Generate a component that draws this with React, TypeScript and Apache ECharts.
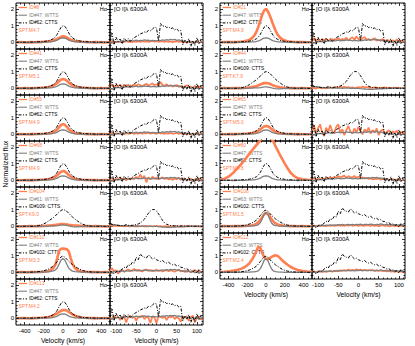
import React, { useEffect, useRef } from 'react';
import * as echarts from 'echarts';

// ---------- velocity grids ----------
const HA_V = [-490, -440, -390, -340, -300, -260, -230, -200, -175, -150, -125, -100, -80, -60, -40, -20, 0, 20, 40, 60, 80, 100, 125, 150, 175, 200, 230, 260, 300, 340, 390, 440, 490];
const OI_V = [-115, -110, -105, -100, -95, -90, -85, -80, -75, -70, -65, -60, -55, -50, -45, -40, -35, -30, -25, -20, -15, -10, -5, 0, 5, 10, 15, 20, 25, 30, 35, 40, 45, 50, 55, 60, 65, 70, 75, 80, 85, 90, 95, 100, 105, 110, 115];

// ---------- axis ticks ----------
const HA_RANGE = [-490, 490];
const OI_RANGE = [-115, 115];
const Y_RANGE = [-0.4, 2.35];
const HA_X_MAJOR = [-400, -200, 0, 200, 400];
const HA_X_MINOR = [-450, -350, -300, -250, -150, -100, -50, 50, 100, 150, 250, 300, 350, 450];
const OI_X_MAJOR = [-100, -50, 0, 50, 100];
const OI_X_MINOR = [-110, -90, -80, -70, -60, -40, -30, -20, -10, 10, 20, 30, 40, 60, 70, 80, 90, 110];
const Y_MAJOR = [0, 1, 2];
const Y_MINOR = [-0.2, 0.2, 0.4, 0.6, 0.8, 1.2, 1.4, 1.6, 1.8, 2.2];

// ---------- Halpha templates ----------
const C62_HA = [0.00, 0.00, 0.01, 0.01, 0.02, 0.03, 0.04, 0.05, 0.07, 0.10, 0.15, 0.22, 0.32, 0.48, 0.70, 0.90, 1.00, 0.95, 0.78, 0.56, 0.38, 0.26, 0.17, 0.12, 0.08, 0.06, 0.04, 0.03, 0.02, 0.01, 0.01, 0.00, 0.00];
const W47_HA = [0.00, 0.01, 0.00, -0.01, 0.00, 0.01, 0.00, 0.01, 0.01, 0.02, 0.03, 0.05, 0.08, 0.13, 0.20, 0.25, 0.27, 0.25, 0.20, 0.13, 0.08, 0.05, 0.03, 0.02, 0.01, 0.01, 0.00, 0.01, 0.00, -0.01, 0.00, 0.01, 0.00];
const W47B_HA = [0.00, 0.01, 0.00, 0.00, 0.01, 0.00, 0.01, 0.01, 0.02, 0.03, 0.05, 0.08, 0.14, 0.26, 0.50, 0.74, 0.82, 0.72, 0.48, 0.25, 0.13, 0.07, 0.04, 0.03, 0.02, 0.01, 0.01, 0.00, 0.01, 0.00, 0.00, 0.01, 0.00];
const C109_HA = [0.00, 0.00, 0.01, 0.00, 0.01, 0.03, 0.08, 0.15, 0.22, 0.32, 0.42, 0.52, 0.62, 0.74, 0.85, 0.95, 1.00, 0.97, 0.90, 0.78, 0.66, 0.55, 0.43, 0.32, 0.22, 0.14, 0.07, 0.03, 0.01, 0.00, 0.01, 0.00, 0.00];
const W61_HA = [0.00, 0.01, 0.00, 0.01, 0.00, 0.00, 0.01, 0.00, 0.01, 0.01, 0.02, 0.02, 0.03, 0.04, 0.06, 0.08, 0.08, 0.07, 0.05, 0.02, 0.00, -0.02, -0.03, -0.03, -0.02, -0.01, 0.00, 0.01, 0.00, 0.00, 0.01, 0.00, 0.00];
const C102_HA = [0.00, 0.01, 0.01, 0.01, 0.02, 0.04, 0.06, 0.10, 0.14, 0.20, 0.28, 0.38, 0.50, 0.65, 0.80, 0.92, 0.97, 0.90, 0.78, 0.65, 0.55, 0.45, 0.35, 0.26, 0.18, 0.12, 0.07, 0.04, 0.02, 0.01, 0.01, 0.00, 0.00];
const W63_HA = [0.00, 0.00, 0.01, 0.00, 0.01, 0.00, 0.01, 0.01, 0.01, 0.02, 0.03, 0.05, 0.10, 0.22, 0.45, 0.72, 0.82, 0.70, 0.42, 0.20, 0.08, 0.04, 0.02, 0.01, 0.01, 0.00, 0.01, 0.00, 0.00, 0.01, 0.00, 0.00, 0.00];

// ---------- Halpha targets ----------
const O8_HA = [0.00, 0.01, -0.01, 0.01, 0.00, 0.02, 0.01, 0.03, 0.04, 0.06, 0.08, 0.11, 0.15, 0.20, 0.27, 0.33, 0.36, 0.34, 0.29, 0.22, 0.16, 0.12, 0.08, 0.06, 0.04, 0.03, 0.02, 0.01, 0.00, 0.01, 0.00, -0.01, 0.00];
const O41_HA = [0.01, 0.00, 0.02, 0.00, 0.01, 0.02, 0.03, 0.04, 0.06, 0.08, 0.12, 0.17, 0.24, 0.32, 0.43, 0.52, 0.56, 0.53, 0.45, 0.34, 0.25, 0.18, 0.12, 0.08, 0.05, 0.04, 0.03, 0.02, 0.01, 0.00, 0.01, 0.00, 0.01];
const O55_HA = [0.00, 0.01, 0.00, 0.01, 0.01, 0.02, 0.02, 0.03, 0.04, 0.06, 0.09, 0.13, 0.19, 0.29, 0.43, 0.56, 0.61, 0.57, 0.45, 0.31, 0.20, 0.13, 0.08, 0.05, 0.04, 0.03, 0.02, 0.01, 0.01, 0.00, 0.01, 0.00, 0.00];
const O68_HA = [0.01, 0.00, 0.01, 0.02, 0.01, 0.02, 0.03, 0.03, 0.05, 0.07, 0.10, 0.15, 0.21, 0.30, 0.42, 0.51, 0.55, 0.52, 0.43, 0.32, 0.22, 0.15, 0.10, 0.06, 0.04, 0.03, 0.02, 0.02, 0.01, 0.01, 0.00, 0.01, 0.00];
const O104_HA = [0.00, -0.01, 0.00, 0.01, 0.00, 0.01, 0.01, 0.02, 0.03, 0.04, 0.05, 0.07, 0.08, 0.10, 0.11, 0.13, 0.13, 0.12, 0.11, 0.09, 0.08, 0.06, 0.05, 0.04, 0.03, 0.02, 0.01, 0.01, 0.00, 0.01, 0.00, -0.01, 0.00];
const O110_HA = [0.00, 0.01, 0.00, 0.01, 0.01, 0.02, 0.02, 0.03, 0.05, 0.08, 0.14, 0.25, 0.45, 0.85, 1.30, 1.40, 1.42, 1.40, 1.38, 1.25, 0.85, 0.50, 0.25, 0.12, 0.07, 0.04, 0.03, 0.02, 0.01, 0.01, 0.00, 0.01, 0.00];
const O113_HA = [0.00, 0.01, 0.01, 0.00, 0.01, 0.02, 0.03, 0.04, 0.06, 0.08, 0.12, 0.17, 0.23, 0.30, 0.38, 0.45, 0.50, 0.50, 0.46, 0.38, 0.30, 0.23, 0.16, 0.10, 0.07, 0.05, 0.03, 0.02, 0.01, 0.01, 0.00, 0.01, 0.00];
const O21_HA = [0.00, 0.01, 0.01, 0.01, 0.02, 0.04, 0.06, 0.10, 0.15, 0.25, 0.40, 0.65, 0.95, 1.30, 1.65, 1.90, 2.00, 1.85, 1.60, 1.30, 1.00, 0.72, 0.45, 0.28, 0.17, 0.10, 0.06, 0.04, 0.02, 0.01, 0.01, 0.00, 0.00];
const O44_HA = [0.00, 0.01, 0.00, 0.01, 0.01, 0.01, 0.02, 0.03, 0.05, 0.07, 0.10, 0.14, 0.18, 0.23, 0.28, 0.31, 0.32, 0.30, 0.27, 0.22, 0.17, 0.13, 0.09, 0.06, 0.04, 0.03, 0.02, 0.01, 0.01, 0.00, 0.01, 0.00, 0.00];
const O65_HA = [0.01, 0.00, 0.01, 0.01, 0.02, 0.02, 0.03, 0.04, 0.05, 0.07, 0.10, 0.15, 0.21, 0.29, 0.39, 0.47, 0.50, 0.48, 0.41, 0.31, 0.22, 0.15, 0.10, 0.07, 0.05, 0.03, 0.02, 0.02, 0.01, 0.01, 0.00, 0.00, 0.01];
const O80_HA = [0.03, 0.10, 0.25, 0.50, 0.75, 1.00, 1.20, 1.42, 1.60, 1.78, 1.95, 2.12, 2.25, 2.40, 2.55, 2.65, 2.70, 2.65, 2.55, 2.45, 2.30, 2.05, 1.78, 1.50, 1.25, 1.00, 0.72, 0.47, 0.25, 0.12, 0.06, 0.03, 0.02];
const O108_HA = [0.00, 0.01, 0.00, 0.01, 0.01, 0.01, 0.02, 0.03, 0.04, 0.06, 0.10, 0.16, 0.25, 0.38, 0.55, 0.72, 0.80, 0.75, 0.60, 0.42, 0.28, 0.18, 0.11, 0.07, 0.04, 0.03, 0.02, 0.01, 0.01, 0.00, 0.01, 0.00, 0.00];
const O112_HA = [0.02, 0.03, 0.06, 0.10, 0.15, 0.22, 0.30, 0.42, 0.55, 0.75, 1.00, 1.30, 1.55, 1.45, 1.15, 0.90, 0.80, 0.78, 0.85, 0.92, 0.98, 1.02, 0.98, 0.85, 0.70, 0.58, 0.45, 0.33, 0.22, 0.14, 0.08, 0.04, 0.02];

// ---------- [O I] templates ----------
const C62_OI = [0.05, 0.55, -0.15, 0.30, 0.05, 0.20, -0.10, 0.25, 0.10, 0.22, 0.05, 0.18, 0.28, 0.35, 0.42, 0.50, 0.55, 0.62, 0.58, 0.72, 0.68, 0.80, 0.90, 0.85, 0.10, 1.12, 0.95, 1.00, 0.88, 0.92, 0.82, 0.86, 0.75, 0.80, 0.68, 0.72, -0.15, 0.15, -0.05, 0.22, -0.25, 0.10, -0.20, 0.28, -0.05, 0.18, -0.10];
const W47_OI = [0.00, -0.05, 0.05, 0.02, 0.06, 0.03, 0.08, 0.05, 0.10, 0.07, 0.12, 0.08, 0.10, 0.13, 0.09, 0.12, 0.10, 0.14, 0.11, 0.13, 0.09, 0.12, 0.10, 0.08, 0.12, 0.10, 0.14, 0.12, 0.16, 0.13, 0.17, 0.14, 0.18, 0.12, 0.15, 0.10, 0.06, 0.09, 0.03, 0.07, 0.00, 0.05, -0.03, 0.04, -0.05, 0.02, -0.04];
const C109_OI = [0.15, 0.12, 0.10, 0.08, 0.06, 0.05, 0.04, 0.05, 0.10, 0.06, 0.05, 0.06, 0.08, 0.10, 0.14, 0.20, 0.30, 0.42, 0.60, 0.78, 0.92, 1.00, 1.00, 0.92, 0.75, 0.55, 0.35, 0.20, 0.12, 0.08, 0.05, 0.04, 0.03, 0.03, 0.02, 0.02, 0.03, 0.02, 0.01, 0.02, 0.01, 0.02, 0.01, 0.00, 0.01, 0.00, 0.01];
const W61_OI = [0.12, 0.10, 0.08, 0.07, 0.05, 0.04, 0.03, 0.03, 0.02, 0.02, 0.01, 0.02, 0.01, 0.02, 0.01, 0.00, 0.01, 0.02, 0.01, 0.00, 0.01, 0.00, -0.01, 0.00, -0.02, -0.03, -0.04, -0.05, -0.06, -0.05, -0.06, -0.05, -0.04, -0.03, -0.02, -0.03, -0.01, -0.02, 0.00, -0.01, 0.00, 0.01, 0.00, 0.01, 0.00, 0.01, 0.00];
const C102_OI = [0.00, 0.05, -0.10, 0.02, 0.10, 0.05, 0.20, 0.30, 0.25, 0.45, 0.40, 0.60, 0.55, 0.90, 0.75, 1.10, 0.95, 0.90, 0.85, 1.05, 0.92, 0.80, 0.85, 0.75, 0.70, 0.65, 0.70, 0.60, 0.55, 0.60, 0.50, 0.45, 0.48, 0.38, 0.40, 0.30, 0.28, 0.20, 0.22, 0.12, 0.15, 0.05, 0.10, -0.05, 0.18, 0.00, 0.05];
const W63_OI = [0.00, 0.03, -0.02, 0.05, 0.02, 0.06, 0.04, 0.07, 0.05, 0.08, 0.06, 0.09, 0.07, 0.10, 0.08, 0.11, 0.09, 0.10, 0.12, 0.08, 0.11, 0.09, 0.12, 0.10, 0.13, 0.09, 0.11, 0.12, 0.10, 0.13, 0.11, 0.09, 0.12, 0.10, 0.14, 0.11, 0.09, 0.12, 0.08, 0.11, 0.07, 0.10, 0.06, 0.09, 0.05, 0.08, 0.06];

// ---------- [O I] targets ----------
const O8_OI = [0.02, 0.08, -0.03, 0.04, 0.01, 0.05, 0.00, 0.03, 0.06, 0.02, 0.04, 0.01, 0.05, 0.03, 0.06, 0.02, 0.07, 0.04, 0.05, 0.03, 0.06, 0.08, 0.04, 0.07, 0.03, 0.06, 0.05, 0.02, 0.06, 0.03, 0.05, 0.01, 0.04, 0.06, 0.02, 0.05, 0.00, 0.04, -0.02, 0.03, 0.05, -0.03, 0.02, 0.06, -0.04, 0.03, 0.00];
const O41_OI = [0.10, 0.25, 0.05, 0.18, 0.12, 0.22, 0.08, 0.15, 0.20, 0.12, 0.18, 0.10, 0.22, 0.15, 0.25, 0.18, 0.12, 0.20, 0.28, 0.15, 0.22, 0.30, 0.18, 0.25, 0.12, 0.38, 0.20, 0.15, 0.25, 0.12, 0.18, 0.10, 0.15, 0.20, 0.08, 0.14, 0.05, 0.12, 0.18, 0.06, 0.10, 0.02, 0.15, 0.05, 0.12, 0.00, 0.08];
const O55_OI = [0.03, 0.10, 0.00, 0.06, 0.02, 0.08, 0.04, 0.01, 0.07, 0.03, 0.05, 0.09, 0.02, 0.06, 0.04, 0.08, 0.03, 0.07, 0.05, 0.10, 0.04, 0.08, 0.06, 0.03, 0.09, 0.05, 0.07, 0.02, 0.06, 0.04, 0.08, 0.03, 0.05, 0.09, 0.02, 0.06, 0.04, 0.00, 0.07, 0.03, -0.02, 0.05, 0.01, 0.06, -0.03, 0.04, 0.02];
const O68_OI = [0.05, 0.15, -0.05, 0.10, 0.02, 0.18, 0.06, 0.12, 0.00, 0.10, 0.05, 0.15, 0.08, 0.20, 0.12, 0.35, 0.10, 0.28, -0.12, 0.18, 0.05, 0.22, 0.10, 0.15, 0.06, 0.12, 0.18, 0.08, 0.14, 0.05, 0.10, 0.02, 0.12, 0.06, 0.15, 0.03, 0.08, 0.12, 0.00, 0.06, 0.10, -0.05, 0.08, 0.02, 0.12, -0.03, 0.05];
const O104_OI = [0.05, 0.03, 0.04, 0.02, 0.03, 0.01, 0.02, 0.00, 0.02, 0.01, 0.00, 0.02, -0.01, 0.01, 0.00, 0.02, 0.01, -0.01, 0.01, 0.00, 0.02, -0.01, 0.01, 0.03, 0.00, 0.02, -0.01, 0.01, 0.00, -0.02, 0.01, -0.01, 0.00, 0.02, -0.01, 0.01, -0.02, 0.00, 0.01, -0.01, 0.02, 0.00, -0.01, 0.01, 0.00, -0.02, 0.01];
const O110_OI = [0.10, 0.25, 0.05, 0.12, -0.08, 0.08, 0.15, 0.02, 0.10, 0.18, 0.06, 0.12, 0.20, 0.08, 0.15, 0.10, 0.05, 0.12, 0.18, 0.08, 0.14, 0.06, 0.10, 0.16, 0.08, 0.12, 0.05, 0.10, 0.14, 0.06, 0.12, 0.08, 0.03, 0.10, 0.15, 0.05, 0.09, 0.02, 0.12, 0.06, 0.00, 0.08, 0.14, 0.03, 0.07, -0.02, 0.05];
const O113_OI = [0.08, -0.05, 0.15, 0.02, 0.10, -0.10, 0.05, 0.12, -0.25, 0.08, 0.15, 0.02, 0.10, -0.15, 0.12, 0.05, 0.18, -0.05, 0.10, 0.02, -0.28, 0.12, 0.05, -0.30, 0.15, 0.08, 0.02, 0.12, -0.10, 0.10, 0.05, 0.15, -0.05, 0.08, 0.00, -0.20, 0.10, 0.05, 0.12, -0.15, 0.08, 0.15, -0.25, 0.05, 0.10, -0.08, 0.02];
const O21_OI = [0.05, 0.25, 0.10, 0.18, 0.05, 0.20, 0.12, 0.22, 0.08, 0.15, 0.20, 0.10, 0.18, 0.25, 0.12, 0.20, 0.15, 0.28, 0.10, 0.22, 0.30, 0.15, 0.35, 0.18, 0.10, 0.25, 0.32, 0.15, 0.20, 0.12, 0.18, 0.25, 0.10, 0.15, 0.08, 0.20, 0.05, 0.15, 0.10, 0.02, 0.12, 0.05, 0.18, -0.02, 0.10, 0.05, 0.00];
const O44_OI = [0.00, 0.03, -0.02, 0.05, 0.02, 0.00, 0.04, -0.01, 0.03, 0.06, 0.02, 0.05, 0.08, 0.04, 0.10, 0.06, 0.09, 0.05, 0.08, 0.03, 0.06, 0.02, 0.04, 0.07, 0.05, 0.10, 0.06, 0.08, 0.03, 0.05, 0.02, 0.06, 0.04, 0.01, 0.05, 0.03, 0.06, 0.02, 0.04, 0.00, 0.03, 0.05, 0.01, 0.04, -0.01, 0.03, 0.02];
const O65_OI = [0.15, 0.50, 0.05, 0.35, 0.60, 0.10, -0.10, 0.40, 0.15, 0.55, 0.20, 0.05, 0.45, 0.60, 0.10, 0.30, -0.05, 0.25, 0.50, 0.15, 0.05, 0.35, 0.10, 0.45, 0.20, 0.00, 0.30, 0.15, 0.40, 0.05, 0.25, 0.10, 0.35, -0.05, 0.20, 0.30, 0.05, 0.15, 0.25, 0.00, 0.18, 0.08, 0.22, -0.02, 0.15, 0.05, 0.10];
const O80_OI = [0.05, 0.15, 0.02, 0.10, 0.05, 0.12, 0.08, 0.15, 0.10, 0.18, 0.12, 0.20, 0.15, 0.25, 0.18, 0.22, 0.28, 0.15, 0.25, 0.20, 0.18, 0.26, 0.15, 0.22, 0.12, 0.18, 0.10, 0.15, 0.08, 0.12, 0.05, 0.10, 0.06, 0.12, 0.03, 0.08, 0.05, 0.10, 0.02, 0.06, 0.08, 0.00, 0.05, 0.07, -0.02, 0.04, 0.02];
const O108_OI = [0.02, 0.05, 0.00, 0.04, 0.02, 0.06, 0.03, 0.01, 0.05, 0.03, 0.06, 0.02, 0.04, 0.07, 0.03, 0.05, 0.02, 0.06, 0.04, 0.08, 0.03, 0.05, 0.07, 0.02, 0.06, 0.04, 0.03, 0.07, 0.05, 0.02, 0.06, 0.03, 0.05, 0.01, 0.04, 0.06, 0.02, 0.05, 0.00, 0.03, 0.05, 0.01, 0.04, -0.01, 0.03, 0.02, 0.00];
const O112_OI = [0.02, 0.06, 0.00, 0.04, 0.08, 0.03, 0.06, 0.02, 0.05, 0.08, 0.04, 0.07, 0.10, 0.06, 0.12, 0.09, 0.14, 0.10, 0.16, 0.12, 0.15, 0.11, 0.18, 0.13, 0.16, 0.12, 0.15, 0.10, 0.14, 0.11, 0.13, 0.09, 0.12, 0.08, 0.11, 0.07, 0.10, 0.05, 0.08, 0.04, 0.07, 0.02, 0.06, 0.03, 0.05, 0.01, 0.04];

// ---------- panel labels ----------
const LEFT_TARGETS = ['ID#8', 'ID#41', 'ID#55', 'ID#68', 'ID#104', 'ID#110', 'ID#113'];
const LEFT_WTTS = ['ID#47: WTTS', 'ID#47: WTTS', 'ID#47: WTTS', 'ID#47: WTTS', 'ID#61: WTTS', 'ID#47: WTTS', 'ID#47: WTTS'];
const LEFT_CTTS = ['ID#62: CTTS', 'ID#62: CTTS', 'ID#62: CTTS', 'ID#62: CTTS', 'ID#109: CTTS', 'ID#102: CTTS', 'ID#62: CTTS'];
const LEFT_SPT = ['SPT:M4.7', 'SPT:M5.1', 'SPT:M4.9', 'SPT:M4.9', 'SPT:K9.0', 'SPT:M3.3', 'SPT:M4.2'];
const RIGHT_TARGETS = ['ID#21', 'ID#44', 'ID#65', 'ID#80', 'ID#108', 'ID#112'];
const RIGHT_WTTS = ['ID#47: WTTS', 'ID#61: WTTS', 'ID#47: WTTS', 'ID#47: WTTS', 'ID#63: WTTS', 'ID#63: WTTS'];
const RIGHT_CTTS = ['ID#62: CTTS', 'ID#109: CTTS', 'ID#62: CTTS', 'ID#62: CTTS', 'ID#102: CTTS', 'ID#102: CTTS'];
const RIGHT_SPT = ['SPT:M4.9', 'SPT:K7.9', 'SPT:M5.0', 'SPT:M4.8', 'SPT:M1.5', 'SPT:M2.4'];

const LEFT_HA = [[O8_HA, W47_HA, C62_HA], [O41_HA, W47_HA, C62_HA], [O55_HA, W47_HA, C62_HA], [O68_HA, W47_HA, C62_HA], [O104_HA, W61_HA, C109_HA], [O110_HA, W47B_HA, C102_HA], [O113_HA, W47_HA, C62_HA]];
const LEFT_OI = [[O8_OI, W47_OI, C62_OI], [O41_OI, W47_OI, C62_OI], [O55_OI, W47_OI, C62_OI], [O68_OI, W47_OI, C62_OI], [O104_OI, W61_OI, C109_OI], [O110_OI, W47_OI, C102_OI], [O113_OI, W47_OI, C62_OI]];
const RIGHT_HA = [[O21_HA, W47_HA, C62_HA], [O44_HA, W61_HA, C109_HA], [O65_HA, W47_HA, C62_HA], [O80_HA, W47_HA, C62_HA], [O108_HA, W63_HA, C102_HA], [O112_HA, W63_HA, C102_HA]];
const RIGHT_OI = [[O21_OI, W47_OI, C62_OI], [O44_OI, W61_OI, C109_OI], [O65_OI, W47_OI, C62_OI], [O80_OI, W47_OI, C62_OI], [O108_OI, W63_OI, C102_OI], [O112_OI, W63_OI, C102_OI]];

const ORANGE = '#FF7F50';
const GRAY = '#7F7F7F';
const BLACK = '#000000';
const FONT = '"Liberation Sans", Arial, Helvetica, sans-serif';

export default function App() {
  const ref = useRef<HTMLDivElement>(null);

  useEffect(() => {
    if (!ref.current) return;
    const chart = echarts.init(ref.current, null, { renderer: 'svg' });
    const TOP = 3;
    const ROW_H = 46;
    const grids: any[] = [];
    const xAxes: any[] = [];
    const yAxes: any[] = [];
    const series: any[] = [];
    const graphics: any[] = [];

    const text = (x: number, y: number, t: string, fill: string, size: number, align = 'left', rotation = 0) => ({
      type: 'text', x, y, rotation, silent: true,
      style: { text: t, fill, fontSize: size, fontFamily: FONT, align, verticalAlign: 'middle', textAlign: align, textVerticalAlign: 'middle' },
    });
    const keyLine = (x1: number, x2: number, y: number, stroke: string, width: number, dash?: number[]) => ({
      type: 'line', silent: true,
      shape: { x1, y1: y, x2, y2: y },
      style: { stroke, lineWidth: width, lineDash: dash || null },
    });

    const addPanel = (left: number, top: number, width: number, kind: 'ha' | 'oi', showX: boolean, curves: number[][]) => {
      const gi = grids.length;
      grids.push({ left, top, width, height: ROW_H, show: true, borderColor: '#000', borderWidth: 1, backgroundColor: 'rgba(0,0,0,0)', containLabel: false, outerBoundsMode: 'none' });
      const xr = kind === 'ha' ? HA_RANGE : OI_RANGE;
      const xMaj = kind === 'ha' ? HA_X_MAJOR : OI_X_MAJOR;
      const xMin = kind === 'ha' ? HA_X_MINOR : OI_X_MINOR;
      const xs = kind === 'ha' ? HA_V : OI_V;
      const xi = xAxes.length;
      const yi = yAxes.length;
      const mk = (pos: string, min: number, max: number, ticks: number[], len: number, label: boolean) => ({
        type: 'value', gridIndex: gi, position: pos, min, max,
        axisLine: { show: false, onZero: false },
        splitLine: { show: false },
        axisTick: { show: true, inside: true, length: len, customValues: ticks, lineStyle: { color: '#000', width: 0.8 } },
        axisLabel: { show: label, customValues: ticks, fontSize: 6, fontFamily: FONT, color: '#000', margin: pos === 'bottom' ? 3 : 2 },
      });
      xAxes.push(
        mk('bottom', xr[0], xr[1], xMaj, 3, showX),
        mk('bottom', xr[0], xr[1], xMin, 1.5, false),
        mk('top', xr[0], xr[1], xMaj, 3, false),
        mk('top', xr[0], xr[1], xMin, 1.5, false),
      );
      yAxes.push(
        mk('left', Y_RANGE[0], Y_RANGE[1], Y_MAJOR, 3, kind === 'ha'),
        mk('left', Y_RANGE[0], Y_RANGE[1], Y_MINOR, 1.5, false),
        mk('right', Y_RANGE[0], Y_RANGE[1], Y_MAJOR, 3, false),
        mk('right', Y_RANGE[0], Y_RANGE[1], Y_MINOR, 1.5, false),
      );
      const styles = [
        { color: ORANGE, width: kind === 'ha' ? 2.6 : 1.7, type: 'solid' },
        { color: GRAY, width: 1.3, type: 'solid' },
        { color: BLACK, width: 1.0, type: [3, 1.5, 1, 1.5] },
      ];
      curves.forEach((ys, k) => {
        series.push({
          type: 'line', xAxisIndex: xi, yAxisIndex: yi,
          data: xs.map((v, i) => [v, ys[i]]),
          showSymbol: false, symbol: 'none', silent: true, clip: true,
          lineStyle: styles[k], z: 2 + k,
        });
      });
    };

    const addColumn = (haLeft: number, haW: number, oiLeft: number, oiW: number, targets: string[], wtts: string[], ctts: string[], spt: string[], ha: number[][][], oi: number[][][]) => {
      const n = targets.length;
      for (let r = 0; r < n; r++) {
        const top = TOP + r * ROW_H;
        const last = r === n - 1;
        addPanel(haLeft, top, haW, 'ha', last, ha[r]);
        addPanel(oiLeft, top, oiW, 'oi', last, oi[r]);
        const kx1 = haLeft + 2.5, kx2 = haLeft + 11, tx = haLeft + 13;
        graphics.push(keyLine(kx1, kx2, top + 4.5, ORANGE, 1.3));
        graphics.push(keyLine(kx1, kx2, top + 12.2, GRAY, 1.1));
        graphics.push(keyLine(kx1, kx2, top + 19.9, BLACK, 1.0, [3, 1.5, 1, 1.5]));
        graphics.push(text(tx, top + 4.5, targets[r], ORANGE, 4.9));
        graphics.push(text(tx, top + 12.2, wtts[r], GRAY, 4.9));
        graphics.push(text(tx, top + 19.9, ctts[r], BLACK, 4.9));
        graphics.push(text(haLeft + 2.5, top + 27.6, spt[r], ORANGE, 4.9));
        graphics.push(text(haLeft + haW - 3, top + 6, 'Hα', BLACK, 5.5, 'right'));
        graphics.push(text(oiLeft + 4, top + 6, '[O I]λ 6300Å', BLACK, 6));
      }
      const bottom = TOP + n * ROW_H;
      graphics.push(text(haLeft + haW / 2, bottom + 15.5, 'Velocity (km/s)', BLACK, 6.8, 'center'));
      graphics.push(text(oiLeft + oiW / 2, bottom + 15.5, 'Velocity (km/s)', BLACK, 6.8, 'center'));
    };

    addColumn(16, 94, 110, 93, LEFT_TARGETS, LEFT_WTTS, LEFT_CTTS, LEFT_SPT, LEFT_HA, LEFT_OI);
    addColumn(220, 92, 312, 93, RIGHT_TARGETS, RIGHT_WTTS, RIGHT_CTTS, RIGHT_SPT, RIGHT_HA, RIGHT_OI);
    graphics.push(text(5, 164, 'Normalized flux', BLACK, 6.8, 'center', Math.PI / 2));

    chart.setOption({
      animation: false,
      backgroundColor: '#ffffff',
      grid: grids,
      xAxis: xAxes,
      yAxis: yAxes,
      series,
      graphic: graphics,
    });
    return () => chart.dispose();
  }, []);

  return <div ref={ref} style={{ position: 'absolute', left: 0, top: 0, width: 415, height: 346 }} />;
}
